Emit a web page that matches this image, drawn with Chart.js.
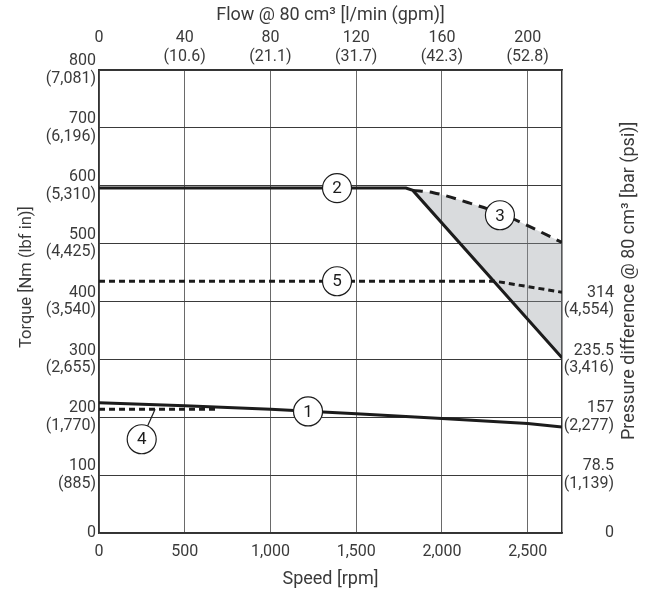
<!DOCTYPE html>
<html>
<head>
<meta charset="utf-8">
<script src="https://cdn.jsdelivr.net/npm/chart.js"></script>
<style>
  body { margin: 0; background: #fff; }
  #wrap { width: 646px; height: 593px; }
</style>
</head>
<body>
<div id="wrap"><canvas id="torqueChart"></canvas></div>
<script>
// axis ticks and labels
const speedTicks = [0, 500, 1000, 1500, 2000, 2500];
const speedLabels = ['0', '500', '1,000', '1,500', '2,000', '2,500'];
const flowTicks = [0, 40, 80, 120, 160, 200];
const flowGpm = ['', '(10.6)', '(21.1)', '(31.7)', '(42.3)', '(52.8)'];
const torqueTicks = [0, 100, 200, 300, 400, 500, 600, 700, 800];
const torqueLbf = ['', '(885)', '(1,770)', '(2,655)', '(3,540)', '(4,425)', '(5,310)', '(6,196)', '(7,081)'];
const pressureTicks = [0, 78.5, 157, 235.5, 314];
const pressurePsi = ['', '(1,139)', '(2,277)', '(3,416)', '(4,554)'];

// curves (speed rpm -> torque Nm)
const speed1 = [0, 500, 1000, 1500, 2000, 2500, 2700];
const torque1 = [225, 220, 214, 206, 198, 189, 183];
const speed2 = [0, 1790, 1830, 2700];
const torque2 = [596, 596, 592, 303];
const speed3 = [1830, 1950, 2150, 2350, 2500, 2700];
const torque3 = [592, 588, 571, 551, 531, 502];
const speed4 = [0, 700];
const torque4 = [214, 214];
const speed5 = [0, 2310, 2700];
const torque5 = [435, 435, 416];

// circled curve numbers
const markerText = ['1', '2', '3', '4', '5'];
const markerSpeed = [1219, 1388, 2338, 249, 1388];
const markerTorque = [210, 596, 549, 162, 435];
const leaderSpeed = 327, leaderTorque = 214; // pointer of label 4

const toXY = (xs, ys) => xs.map((x, i) => ({ x: x, y: ys[i] }));
const ink = '#1c1c1c';
const txt = '#3a3a3a';
const fontFam = 'Roboto, "DejaVu Sans", sans-serif';

Chart.defaults.font.family = fontFam;
Chart.defaults.font.size = 16;
Chart.defaults.color = txt;

const markers = {
  id: 'markers',
  afterDatasetsDraw(chart) {
    const ctx = chart.ctx, xs = chart.scales.x, ys = chart.scales.y;
    const r = 14.5;
    ctx.save();
    // leader for label 4
    const cx4 = xs.getPixelForValue(markerSpeed[3]), cy4 = ys.getPixelForValue(markerTorque[3]);
    const lx = xs.getPixelForValue(leaderSpeed), ly = ys.getPixelForValue(leaderTorque);
    const d = Math.hypot(lx - cx4, ly - cy4);
    ctx.strokeStyle = ink;
    ctx.lineWidth = 1.2;
    ctx.beginPath();
    ctx.moveTo(cx4 + (lx - cx4) * r / d, cy4 + (ly - cy4) * r / d);
    ctx.lineTo(lx, ly);
    ctx.stroke();
    markerText.forEach((t, i) => {
      const cx = xs.getPixelForValue(markerSpeed[i]);
      const cy = ys.getPixelForValue(markerTorque[i]);
      ctx.beginPath();
      ctx.arc(cx, cy, r, 0, Math.PI * 2);
      ctx.fillStyle = '#fff';
      ctx.fill();
      ctx.lineWidth = 1.2;
      ctx.strokeStyle = ink;
      ctx.stroke();
      ctx.fillStyle = ink;
      ctx.font = '17px ' + fontFam;
      ctx.textAlign = 'center';
      ctx.textBaseline = 'middle';
      ctx.fillText(t, cx, cy + 1);
    });
    ctx.restore();
  }
};

// side titles, both read bottom to top, anchored at their lower end
const sideTitles = {
  id: 'sideTitles',
  afterDraw(chart) {
    const ctx = chart.ctx;
    const put = (text, x, yBottom, size) => {
      ctx.save();
      ctx.fillStyle = txt;
      ctx.font = size + 'px ' + fontFam;
      ctx.textAlign = 'left';
      ctx.textBaseline = 'middle';
      ctx.translate(x, yBottom);
      ctx.rotate(-Math.PI / 2);
      ctx.fillText(text, 0, 0);
      ctx.restore();
    };
    put('Torque [Nm (lbf in)]', 27, 348, 16.5);
    put('Pressure difference @ 80 cm³ [bar (psi)]', 629, 440, 18);
  }
};

const ctx = document.getElementById('torqueChart').getContext('2d');
const torqueChart = new Chart(ctx, {
  type: 'line',
  data: {
    datasets: [
      { label: '1', data: toXY(speed1, torque1), borderColor: ink, borderWidth: 3, pointRadius: 0, order: 0 },
      { label: '2', data: toXY(speed2, torque2), borderColor: ink, borderWidth: 3, pointRadius: 0, order: 0 },
      { label: '3', data: toXY(speed3, torque3), borderColor: ink, borderWidth: 3, borderDash: [10, 7], pointRadius: 0,
        cubicInterpolationMode: 'monotone', fill: 1, backgroundColor: 'rgba(150,155,160,0.36)', order: 5 },
      { label: '4', data: toXY(speed4, torque4), borderColor: ink, borderWidth: 3, borderDash: [6, 4], pointRadius: 0, order: 1 },
      { label: '5', data: toXY(speed5, torque5), borderColor: ink, borderWidth: 3, borderDash: [6, 4], pointRadius: 0, order: 0 }
    ]
  },
  options: {
    responsive: true,
    maintainAspectRatio: false,
    animation: false,
    layout: { padding: { left: 0, top: 0, bottom: 0, right: 32 } },
    plugins: { legend: { display: false }, tooltip: { enabled: false } },
    scales: {
      x: {
        type: 'linear', position: 'bottom', min: 0, max: 2700,
        afterFit: s => { s.height = 60; },
        afterBuildTicks: s => { s.ticks = speedTicks.map(v => ({ value: v })); },
        ticks: { padding: 9, maxRotation: 0, callback: (v, i) => speedLabels[i] },
        grid: { color: '#6a6a6a', lineWidth: 1, drawTicks: false },
        border: { color: '#333', width: 1.5 },
        title: { display: true, text: 'Speed [rpm]', font: { size: 18 }, padding: { top: 0, bottom: 3 } }
      },
      x2: {
        type: 'linear', position: 'top', min: 0, max: 216,
        afterFit: s => { s.height = 70; },
        afterBuildTicks: s => { s.ticks = flowTicks.map(v => ({ value: v })); },
        ticks: { padding: 4, maxRotation: 0, font: { lineHeight: 1.15 },
          callback: (v, i) => [String(flowTicks[i]), flowGpm[i]] },
        grid: { display: false, drawTicks: false },
        border: { color: '#333', width: 1.5 },
        title: { display: true, text: 'Flow @ 80 cm³ [l/min (gpm)]', font: { size: 18 }, padding: { top: 5, bottom: 0 } }
      },
      y: {
        type: 'linear', position: 'left', min: 0, max: 800,
        afterFit: s => { s.width = 99; },
        afterBuildTicks: s => { s.ticks = torqueTicks.map(v => ({ value: v })); },
        ticks: { padding: 3, font: { lineHeight: 1.1 },
          callback: (v, i) => torqueLbf[i] ? [String(torqueTicks[i]), torqueLbf[i]] : String(torqueTicks[i]) },
        grid: { color: '#3a3a3a', lineWidth: 1, drawTicks: false },
        border: { color: '#333', width: 1.5 }
      },
      y2: {
        type: 'linear', position: 'right', min: 0, max: 628,
        afterFit: s => { s.width = 52; },
        afterBuildTicks: s => { s.ticks = pressureTicks.map(v => ({ value: v })); },
        ticks: { padding: 2, crossAlign: 'far', font: { lineHeight: 1.1 },
          callback: (v, i) => pressurePsi[i] ? [String(pressureTicks[i]), pressurePsi[i]] : String(pressureTicks[i]) },
        grid: { display: false, drawTicks: false },
        border: { color: '#333', width: 1.5 }
      }
    }
  },
  plugins: [markers, sideTitles]
});
</script>
</body>
</html>
